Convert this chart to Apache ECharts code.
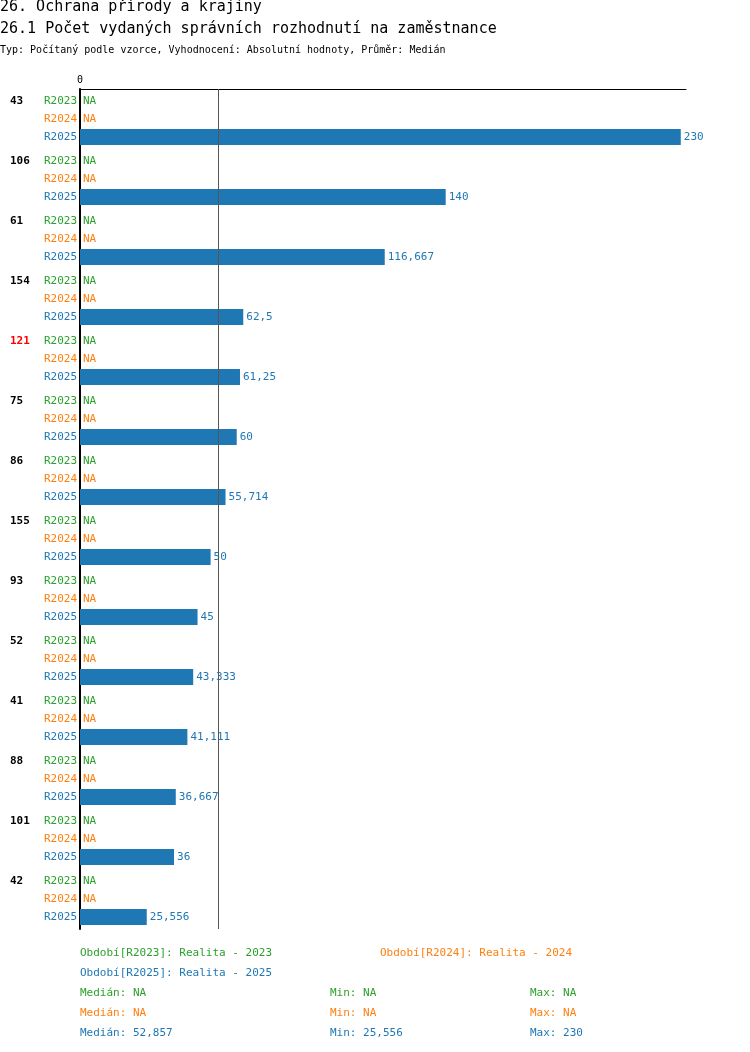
<!DOCTYPE html>
<html><head><meta charset="utf-8">
<script src="https://cdn.jsdelivr.net/npm/echarts@6/dist/echarts.min.js"></script>
<style>html,body{margin:0;padding:0;background:#fff}#c{width:750px;height:1052px}</style>
</head><body><div id="c"></div>
<script>
var groups = ['43','106','61','154','121','75','86','155','93','52','41','88','101','42'];
var redGroups = ['121'];
var r2023 = [null,null,null,null,null,null,null,null,null,null,null,null,null,null];
var r2024 = [null,null,null,null,null,null,null,null,null,null,null,null,null,null];
var r2025 = [230,140,116.667,62.5,61.25,60,55.714,50,45,43.333,41.111,36.667,36,25.556];
var median2025 = 52.857;
var periods = ['R2023','R2024','R2025'];
var colors = ['#2ca02c','#ff7f0e','#1f77b4'];
var FONT = 'DejaVu Sans Mono';

function fmt(v) { return v == null ? 'NA' : String(v).replace('.', ','); }

var chart = echarts.init(document.getElementById('c'));
var all = [r2023, r2024, r2025];

function txt(x, y, s, color, size) {
  return { type: 'text', left: x, top: y, style: { text: s, fill: color, font: (size || 11) + 'px ' + FONT } };
}

chart.setOption({
  animation: false,
  grid: { left: 80, right: 64, top: 89, bottom: 123 },
  xAxis: {
    type: 'value', position: 'top', min: 0, max: 232, interval: 232,
    axisLine: { show: true, lineStyle: { color: '#000', width: 1 } },
    axisTick: { show: false }, splitLine: { show: false },
    axisLabel: { fontFamily: FONT, fontSize: 10, color: '#000', margin: 4,
      formatter: function (v) { return v === 0 ? '0' : ''; } }
  },
  yAxis: {
    type: 'category', inverse: true, data: groups,
    axisLine: { lineStyle: { color: '#000', width: 2 } },
    axisTick: { show: false },
    axisLabel: {
      align: 'left', margin: 70, verticalAlign: 'middle',
      formatter: function (v) { return redGroups.indexOf(v) >= 0 ? '{r|' + v + '}' : '{b|' + v + '}'; },
      rich: {
        b: { fontFamily: FONT, fontSize: 11, fontWeight: 'bold', color: '#000', padding: [0, 0, 36, 0] },
        r: { fontFamily: FONT, fontSize: 11, fontWeight: 'bold', color: '#ff0000', padding: [0, 0, 36, 0] }
      }
    }
  },
  series: [
    { type: 'bar', name: 'R2023', data: r2023, barWidth: 16, barGap: '12.5%', itemStyle: { color: colors[0] } },
    { type: 'bar', name: 'R2024', data: r2024, barWidth: 16, barGap: '12.5%', itemStyle: { color: colors[1] } },
    { type: 'bar', name: 'R2025', data: r2025, barWidth: 16, barGap: '12.5%', itemStyle: { color: colors[2] },
      label: { show: true, position: 'right', distance: 3, color: colors[2], fontFamily: FONT, fontSize: 11,
        formatter: function (p) { return fmt(p.value); } },
      markLine: { symbol: 'none', silent: true, label: { show: false },
        lineStyle: { color: '#555', width: 1, type: 'solid' },
        data: [{ xAxis: median2025 }] } },
    { type: 'custom', data: groups.map(function (g, i) { return i; }), z: 5,
      renderItem: function (params, api) {
        var i = api.value(0);
        var p = api.coord([0, i]);
        var kids = [];
        for (var k = 0; k < 3; k++) {
          var y = p[1] + (k - 1) * 18;
          kids.push({ type: 'text', style: { x: p[0] - 3, y: y, text: periods[k], fill: colors[k],
            font: '11px ' + FONT, align: 'right', verticalAlign: 'middle' } });
          if (all[k][i] == null) {
            kids.push({ type: 'text', style: { x: p[0] + 3, y: y, text: 'NA', fill: colors[k],
              font: '11px ' + FONT, align: 'left', verticalAlign: 'middle' } });
          }
        }
        return { type: 'group', children: kids };
      } }
  ],
  graphic: [
    txt(0, 0, '26. Ochrana přírody a krajiny', '#000', 15),
    txt(0, 22, '26.1 Počet vydaných správních rozhodnutí na zaměstnance', '#000', 15),
    txt(0, 45, 'Typ: Počítaný podle vzorce, Vyhodnocení: Absolutní hodnoty, Průměr: Medián', '#000', 10),
    txt(80, 948, 'Období[R2023]: Realita - 2023', colors[0]),
    txt(380, 948, 'Období[R2024]: Realita - 2024', colors[1]),
    txt(80, 968, 'Období[R2025]: Realita - 2025', colors[2]),
    txt(80, 988, 'Medián: NA', colors[0]),
    txt(330, 988, 'Min: NA', colors[0]),
    txt(530, 988, 'Max: NA', colors[0]),
    txt(80, 1008, 'Medián: NA', colors[1]),
    txt(330, 1008, 'Min: NA', colors[1]),
    txt(530, 1008, 'Max: NA', colors[1]),
    txt(80, 1028, 'Medián: ' + fmt(median2025), colors[2]),
    txt(330, 1028, 'Min: ' + fmt(Math.min.apply(null, r2025)), colors[2]),
    txt(530, 1028, 'Max: ' + fmt(Math.max.apply(null, r2025)), colors[2])
  ]
});
</script></body></html>
